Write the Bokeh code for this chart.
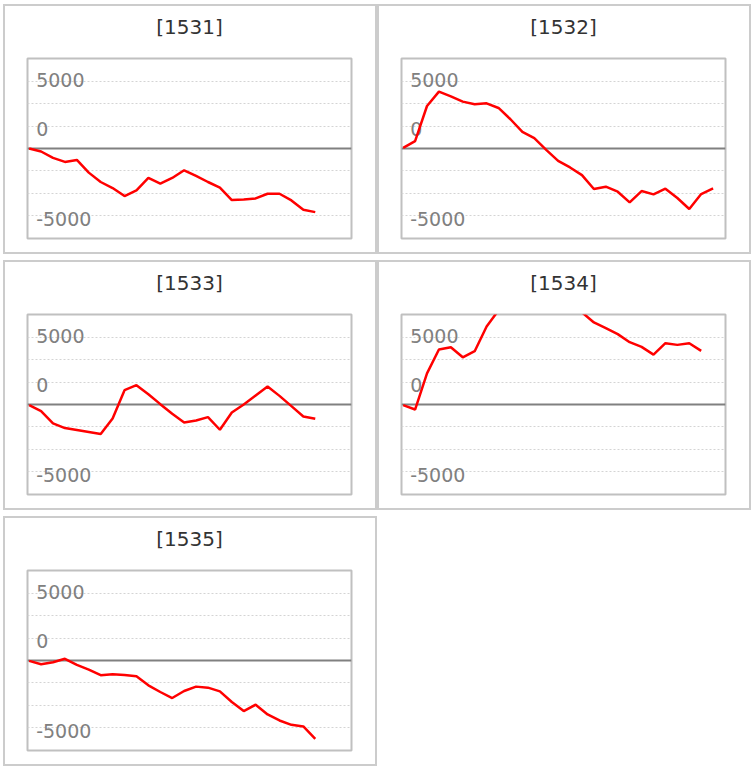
from bokeh.plotting import figure
from bokeh.layouts import column, row
from bokeh.models import Range1d, FixedTicker, Span, Grid
from bokeh.core.properties import value
from bokeh.embed import file_html
from bokeh.resources import INLINE

# ---- data -------------------------------------------------------------
titles = ["[1531]", "[1532]", "[1533]", "[1534]", "[1535]"]

s1531 = [0, -224, -697, -996, -847, -1793, -2490, -2938, -3536, -3113, -2191,
         -2615, -2191, -1619, -2042, -2490, -2913, -3835, -3785, -3710, -3362,
         -3362, -3860, -4557, -4731]
s1532 = [50, 543, 3160, 4224, 3878, 3483, 3285, 3359, 3013, 2174, 1235, 766,
         -99, -914, -1408, -1976, -3013, -2840, -3211, -4001, -3162, -3409,
         -2989, -3680, -4495, -3384, -2964]
s1533 = [-50, -494, -1408, -1754, -1902, -2050, -2198, -1037, 1062, 1433, 766,
         25, -692, -1334, -1186, -939, -1877, -593, 0, 667, 1334, 642, -124,
         -889, -1062]
s1534 = [-50, -374, 2316, 4084, 4258, 3511, 3959, 5802, 7000, 7500, 7900, 8300,
         8000, 8400, 7800, 6850, 6100, 5677, 5229, 4631, 4283, 3710, 4557, 4432,
         4557, 3984]
s1535 = [-25, -274, -125, 125, -324, -672, -1096, -1021, -1071, -1170, -1843,
         -2341, -2789, -2266, -1942, -2017, -2291, -3088, -3760, -3287, -4009,
         -4457, -4781, -4905, -5827]
series = [s1531, s1532, s1533, s1534, s1535]

# y-axis labels as drawn in the chart (label text and the level it sits at)
label_texts = ["5000", "0", "-5000"]
label_levels = [5100, 1470, -5220]
grid_values = [-5000, -3333.3, -1666.7, 1666.7, 3333.3, 5000]
x_limits = (-0.14, 27.04)
y_limits = (-6690, 6690)


def panel(title, ys):
    xs = list(range(len(ys)))
    p = figure(width=370, height=246, output_backend="svg", toolbar_location=None,
               x_range=Range1d(*x_limits), y_range=Range1d(*y_limits),
               x_axis_location=None, y_axis_location=None,
               min_border_left=22, min_border_right=24,
               min_border_top=52, min_border_bottom=14,
               title=title)
    p.title.align = "center"
    p.title.text_font = "DejaVu Sans"
    p.title.text_font_size = "20px"
    p.title.text_font_style = "normal"
    p.title.text_color = "#333333"
    try:
        p.title.padding = dict(left=0, right=0, top=0, bottom=20)
        p.title.vertical_align = "bottom"
        p.title.standoff = 0
    except Exception:
        p.title.vertical_align = "top"
        p.title.standoff = 26
    p.outline_line_color = "#c0c0c0"
    p.outline_line_width = 2
    p.background_fill_color = "white"
    p.border_fill_color = "white"
    p.grid.visible = False

    g = Grid(dimension=1, ticker=FixedTicker(ticks=grid_values),
             grid_line_color="#d4d4d4", grid_line_dash="2 2", grid_line_width=1)
    p.add_layout(g)
    p.add_layout(Span(location=0, dimension="width", line_color="#808080",
                      line_width=2, level="underlay"))

    p.text(x=[xs[0]] * len(label_levels), y=label_levels, text=label_texts,
           text_font=value("DejaVu Sans"), text_font_size="19px",
           text_color="#808080", text_baseline="middle", text_align="left",
           x_offset=7)
    p.line(xs, ys, line_color="#ff0000", line_width=2.5)
    box = column(p, styles={"border": "2px solid #cccccc",
                            "box-sizing": "content-box"})
    return box


boxes = [panel(t, s) for t, s in zip(titles, series)]
layout = column(row(boxes[0], boxes[1]), row(boxes[2], boxes[3]), row(boxes[4]),
                spacing=6, margin=(4, 0, 0, 3))

open("out.html", "w").write(file_html(layout, INLINE))
